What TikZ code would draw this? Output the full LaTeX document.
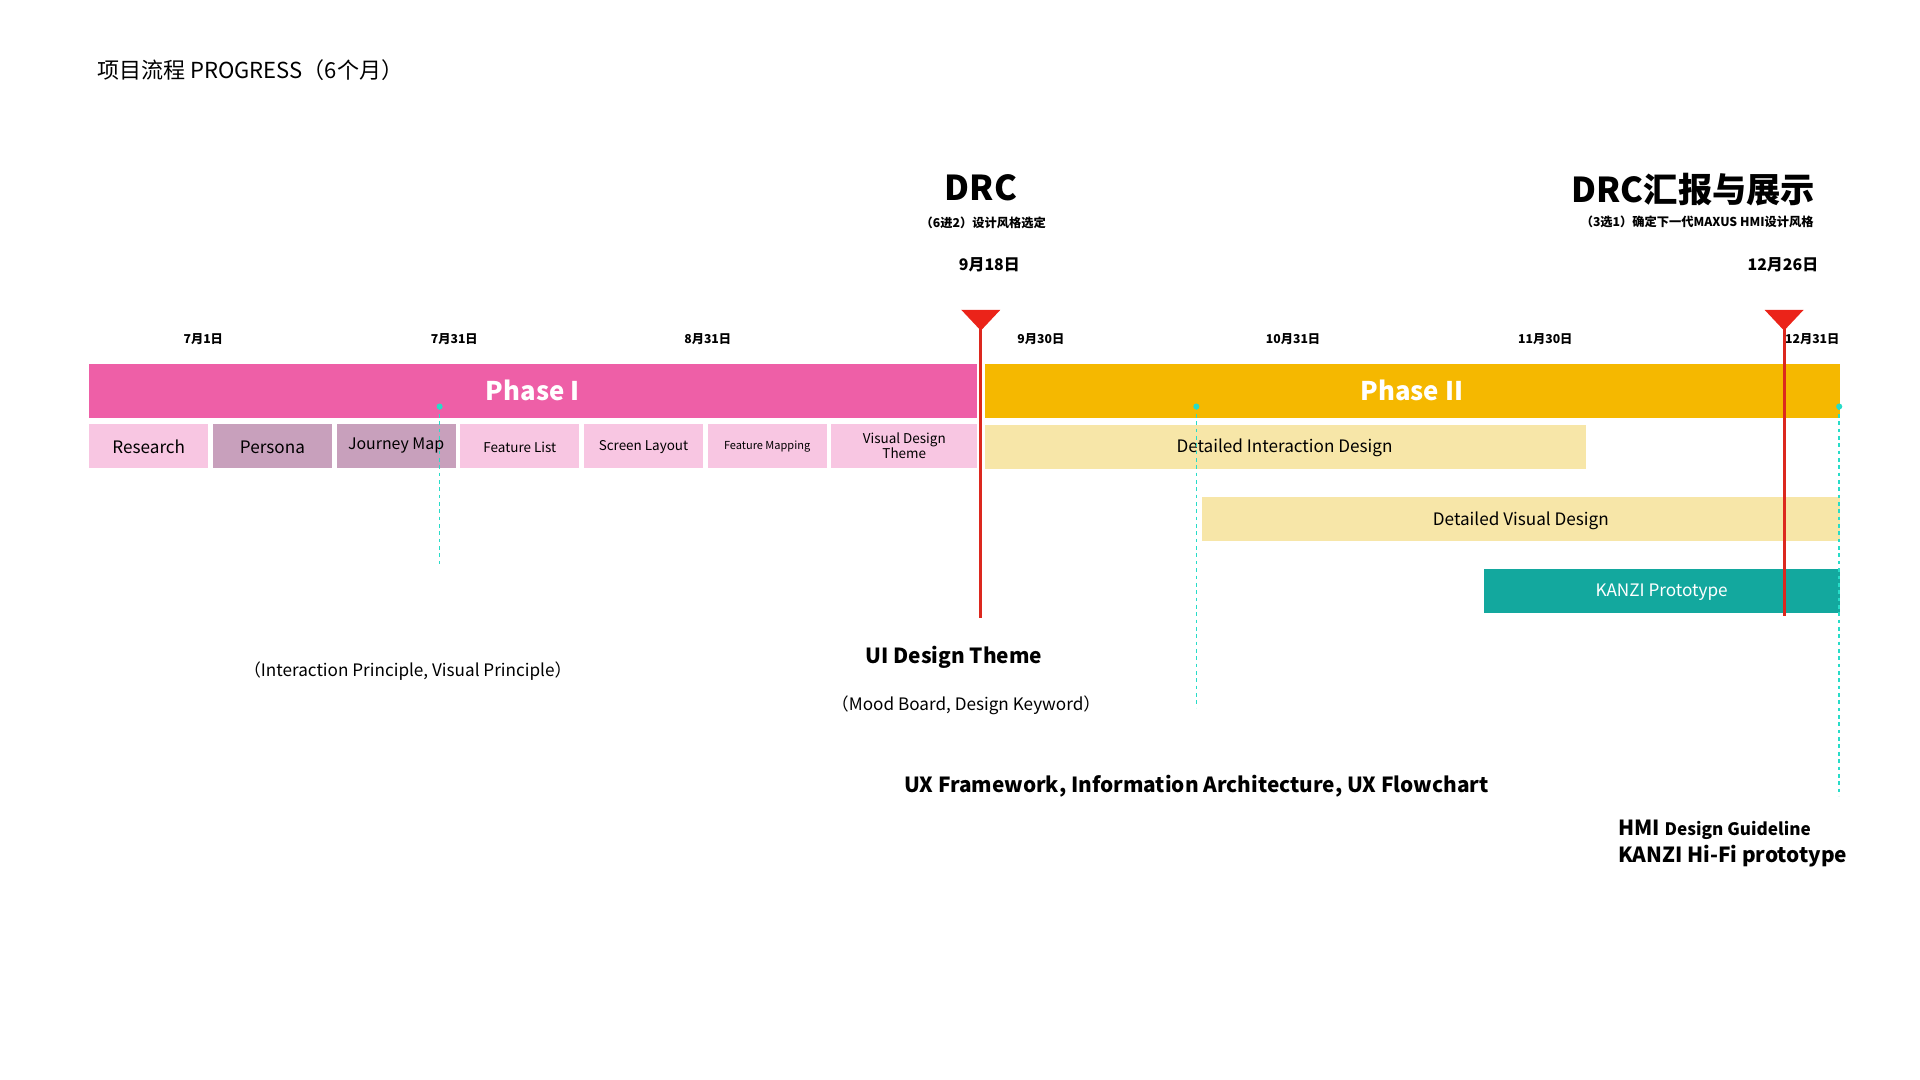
\documentclass[tikz,border=0pt]{standalone}
\usepackage{fontspec}
\setmainfont{Noto Sans CJK SC}
\begin{document}
\begin{tikzpicture}[x=1pt,y=-1pt,
  sub/.style={font=\fontsize{12}{13}\selectfont,align=center},
  date/.style={font=\bfseries\fontsize{10}{11}\selectfont},
  redl/.style={draw={rgb,255:red,220;green,40;blue,30},line width=2.5pt},
  tri/.style={fill={rgb,255:red,235;green,35;blue,25}},
  tealdash/.style={draw={rgb,255:red,40;green,220;blue,200},dashed,line width=1.2pt},
  tealdot/.style={fill={rgb,255:red,40;green,220;blue,200},circle,inner sep=0pt,minimum size=5pt}]
\definecolor{pk}{RGB}{238,95,167}
\definecolor{lp}{RGB}{248,198,226}
\definecolor{mp}{RGB}{200,160,188}
\definecolor{yl}{RGB}{245,184,0}
\definecolor{ly}{RGB}{247,230,168}
\definecolor{tl}{RGB}{19,168,158}
\useasboundingbox (0,0) rectangle (1568,882);
\node[anchor=west,font=\fontsize{18}{20}\selectfont] (title) at (76,57) {项目流程 PROGRESS（6个月）};
\fill[pk] (73,297) rectangle (798,341);
\node[white,font=\bfseries\fontsize{21}{22}\selectfont] (p1) at (435,319) {Phase I};
\fill[yl] (804,297) rectangle (1503,341);
\node[white,font=\bfseries\fontsize{21}{22}\selectfont] (p2) at (1153,319) {Phase II};
\fill[lp] (73,346) rectangle (170,382); \node[sub,font=\fontsize{14}{15}\selectfont] (r) at (121.5,365) {Research};
\fill[mp] (174,346) rectangle (271,382); \node[sub,font=\fontsize{14}{15}\selectfont] (pe) at (222.5,365) {Persona};
\fill[mp] (275,346) rectangle (372,382); \node[sub,font=\fontsize{13}{14}\selectfont] (jm) at (323.5,364) {Journey Map};
\fill[lp] (376,346) rectangle (473,382); \node[sub,font=\fontsize{11}{12}\selectfont] (fl) at (424.5,365) {Feature List};
\fill[lp] (477,346) rectangle (574,382); \node[sub,font=\fontsize{11}{12}\selectfont] (sl) at (525.5,365) {Screen Layout};
\fill[lp] (578,346) rectangle (675,382); \node[sub,font=\fontsize{9}{10}\selectfont] (fm) at (626.5,365) {Feature Mapping};
\fill[lp] (679,346) rectangle (798,382); \node[sub,font=\fontsize{11}{13}\selectfont] (vd) at (738.5,364) {Visual Design\\Theme};
\fill[ly] (804,347) rectangle (1295,383); \node[sub,font=\fontsize{14}{15}\selectfont] (di) at (1049,366) {Detailed Interaction Design};
\fill[ly] (982,406) rectangle (1503,442); \node[sub,font=\fontsize{14}{15}\selectfont] (dv) at (1242,425) {Detailed Visual Design};
\fill[tl] (1212,465) rectangle (1503,501); \node[sub,white,font=\fontsize{14}{15}\selectfont] (kp) at (1357,484) {KANZI Prototype};
\node[date] (d1) at (166,277) {7月1日};
\node[date] (d2) at (371,277) {7月31日};
\node[date] (d3) at (578,277) {8月31日};
\node[date] (d4) at (850,277) {9月30日};
\node[date] (d5) at (1056,277) {10月31日};
\node[date] (d6) at (1262,277) {11月30日};
\node[date] (d7) at (1480,277) {12月31日};
\coordinate (a1) at (359,332); \coordinate (a2) at (359,462);
\coordinate (b1) at (977,332); \coordinate (b2) at (977,578);
\coordinate (c1) at (1502,332); \coordinate (c2) at (1502,650);
\draw[tealdash] (a1)--(a2); \draw[tealdash] (b1)--(b2); \draw[tealdash] (c1)--(c2);
\node[tealdot] at (a1) {}; \node[tealdot] at (b1) {}; \node[tealdot] at (c1) {};
\coordinate (m1) at (801,262); \coordinate (m1b) at (801,505);
\draw[redl] (m1)--(m1b);
\fill[tri] (785,253)--(817,253)--(801,270)--cycle;
\coordinate (m2) at (1457,262); \coordinate (m2b) at (1457,503);
\draw[redl] (m2)--(m2b);
\fill[tri] (1441,253)--(1473,253)--(1457,270)--cycle;
\node[font=\bfseries\fontsize{28}{30}\selectfont] (drc) at (801,153) {DRC};
\node[font=\bfseries\fontsize{10}{11}\selectfont] (drcs) at (803,182) {（6进2）设计风格选定};
\node[font=\bfseries\fontsize{13}{14}\selectfont] (drcd) at (808,216) {9月18日};
\node[font=\bfseries\fontsize{28}{30}\selectfont] (drc2) at (1383,155) {DRC汇报与展示};
\node[font=\bfseries\fontsize{10}{11}\selectfont] (drc2s) at (1386,181) {（3选1）确定下一代MAXUS HMI设计风格};
\node[font=\bfseries\fontsize{13}{14}\selectfont] (drc2d) at (1456,216) {12月26日};
\node[font=\fontsize{14}{15}\selectfont] (t1) at (333,548) {（Interaction Principle, Visual Principle）};
\node[font=\bfseries\fontsize{17}{18}\selectfont] (t2) at (779,537) {UI Design Theme};
\node[font=\fontsize{14}{15}\selectfont] (t3) at (789,576) {（Mood Board, Design Keyword）};
\node[font=\bfseries\fontsize{17}{18}\selectfont] (t4) at (977,642) {UX Framework, Information Architecture, UX Flowchart};
\node[anchor=west,font=\bfseries\fontsize{17}{18}\selectfont] (t5) at (1318,678) {HMI {\fontsize{14}{15}\selectfont Design Guideline}};
\node[anchor=west,font=\bfseries\fontsize{17}{18}\selectfont] (t6) at (1318,699) {KANZI Hi-Fi prototype};
\end{tikzpicture}
\end{document}
